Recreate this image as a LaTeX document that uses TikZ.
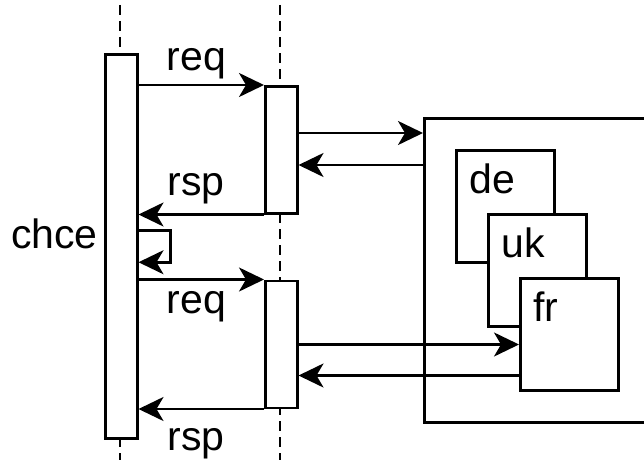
\documentclass[tikz,border=0pt]{standalone}
\usepackage{fontspec}
\setmainfont{Liberation Sans}
\usetikzlibrary{positioning,arrows.meta}

\begin{document}
\begin{tikzpicture}
            [
            x=1pt, y=-1pt,
            every node/.style={font=\fontsize{41}{48}\selectfont, inner sep=0pt},
            lifeline/.style={line width=2.5pt, dash pattern=on 10pt off 6pt},
            bar/.style={rectangle, draw, fill=white, line width=2.5pt,
                minimum width=32pt, anchor=north west},
            frame/.style={rectangle, draw, fill=white, line width=2.5pt,
                minimum width=98pt, minimum height=112pt, anchor=north west},
            msg/.style={line width=2.5pt,
                -{Stealth[length=25pt, width=24pt, inset=7pt]}}
            ]
            \clip (0,0) rectangle (644,460);

            % lifelines behind the activation bars
            \draw [lifeline] (120,5) -- (120,460);
            \draw [lifeline] (280,5) -- (280,460);

            \node (chce) [bar, minimum height=384pt] at (104,53) {};
            \node (act1) [bar, minimum height=127pt] at (264,85) {};
            \node (act2) [below=65pt of act1, bar, anchor=north, minimum height=127pt] {};

            % server with its three locales
            \node (system) [rectangle, draw, line width=2.5pt, anchor=north west,
                minimum width=240pt, minimum height=304pt] at (423,117) {};
            \node (de) [frame] at (455,149) {};
            \node (uk) [frame, below right=64pt and 32pt of de.north west] {};
            \node (fr) [frame, below right=64pt and 32pt of uk.north west] {};
            \foreach \n in {de,uk,fr}
            \node [anchor=base west] at ([shift={(14,44)}]\n.north west) {\n};

            \node [anchor=base east] at ([shift={(-6,2)}]chce.west) {chce};

            % messages
            \draw [msg] (chce.east |- act1.north) -- (act1.north west)
                node [pos=0.46, above=5pt] {req};
            \draw [msg] (act1.south west) -- (chce.east |- act1.south)
                node [pos=0.54, above=9pt] {rsp};
            \draw [msg] ([yshift=16pt]chce.east) -- ++(32,0) -- ++(0,32)
                -- ([yshift=-16pt]chce.east);
            \draw [msg] (chce.east |- act2.north) -- (act2.north west)
                node [pos=0.46, below=11pt] {req};
            \draw [msg] (act2.south west) -- (chce.east |- act2.south)
                node [pos=0.54, below=18pt] {rsp};

            \draw [msg] ([yshift=-48pt]act1.north east)
                -- ([yshift=-48pt]act1.north east -| system.west);
            \draw [msg] ([yshift=-80pt]act1.north east -| system.west)
                -- ([yshift=-80pt]act1.north east);
            \draw [msg] ([yshift=-65pt]act2.north east)
                -- ([yshift=-65pt]act2.north east -| fr.west);
            \draw [msg] ([yshift=-96pt]act2.north east -| fr.west)
                -- ([yshift=-96pt]act2.north east);
        \end{tikzpicture}
\end{document}
